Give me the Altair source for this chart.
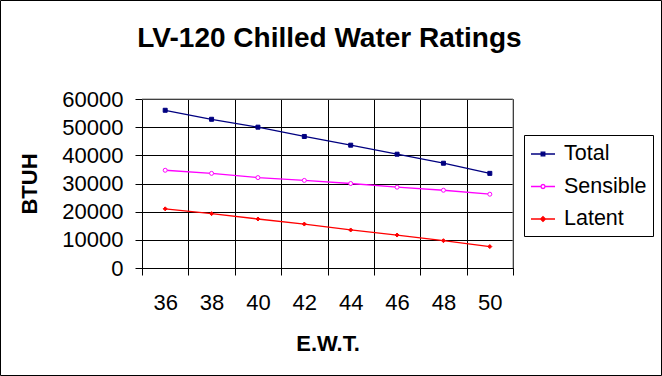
import altair as alt
import pandas as pd

# ---- data ----
ewt = [36, 38, 40, 42, 44, 46, 48, 50]
total = [56000, 52800, 50000, 46700, 43600, 40400, 37200, 33600]
sensible = [34700, 33600, 32100, 31100, 30000, 28700, 27600, 26200]
latent = [21000, 19300, 17400, 15600, 13500, 11700, 9700, 7600]
series = ["Total", "Sensible", "Latent"]
y_ticks = [0, 10000, 20000, 30000, 40000, 50000, 60000]

# ---- styles ----
colors = ["#000080", "#FF00FF", "#FF0000"]
point_shapes = ["square", "circle", "diamond"]
point_fills = ["#000080", "#FFFFFF", "#FF0000"]
legend_paths = [
    "M-1,0H1M-0.15,-0.15H0.15V0.15H-0.15Z",
    "M-1,0H-0.17M0.17,0H1M0.17,0L0.12,0.12L0,0.17L-0.12,0.12L-0.17,0L-0.12,-0.12L0,-0.17L0.12,-0.12Z",
    "M-1,0H1M0,-0.2L0.2,0L0,0.2L-0.2,0Z",
]

rows = []
for s, vals in zip(series, [total, sensible, latent]):
    for e, v in zip(ewt, vals):
        rows.append({"EWT": str(e), "Series": s, "BTUH": v})
df = pd.DataFrame(rows)
one = pd.DataFrame({"k": [0]})

FONT = "Liberation Sans"
W, H = 371, 169
PAD_L, PAD_T = 142, 99
TOTAL_W, TOTAL_H = 662, 376

x_enc = alt.X(
    "EWT:O",
    sort=[str(e) for e in ewt],
    scale=alt.Scale(type="band", paddingInner=0, paddingOuter=0),
    axis=alt.Axis(
        title="E.W.T.", tickBand="extent", grid=True, gridColor="black", gridWidth=1,
        gridOpacity=1, domainColor="black", domainWidth=1, tickColor="black", tickSize=7,
        labelAngle=0, labelFontSize=22, labelFont=FONT, labelColor="black", labelPadding=17,
        titleFont=FONT, titleFontSize=22, titleFontWeight="bold", titleColor="black",
        titlePadding=20,
    ),
)
y_enc = alt.Y(
    "BTUH:Q",
    scale=alt.Scale(domain=[0, 60000], nice=False),
    axis=alt.Axis(
        title="BTUH", values=y_ticks, format="d", grid=True, gridColor="black", gridWidth=1,
        gridOpacity=1, domainColor="black", domainWidth=1, tickColor="black", tickSize=7,
        labelFontSize=22, labelFont=FONT, labelColor="black", labelPadding=12,
        titleFont=FONT, titleFontSize=22, titleFontWeight="bold", titleColor="black",
        titlePadding=20,
    ),
)

legend = alt.Legend(
    orient="none", legendX=382, legendY=36, title=None, strokeColor="black",
    fillColor="white", padding=6, symbolSize=576, symbolStrokeWidth=1.3,
    labelFontSize=21.5, labelFont=FONT, labelColor="black",
    labelOffset=8, rowPadding=8.5, symbolOpacity=1,
)

color_enc = alt.Color("Series:N", scale=alt.Scale(domain=series, range=colors), legend=legend)
fill_enc = alt.Fill("Series:N", scale=alt.Scale(domain=series, range=point_fills), legend=legend)
shape_enc = alt.Shape("Series:N", scale=alt.Scale(domain=series, range=legend_paths), legend=legend)

lines = alt.Chart(df).mark_line(strokeWidth=1.3).encode(x=x_enc, y=y_enc, color=color_enc)

point_layers = []
for s, shp in zip(series, point_shapes):
    point_layers.append(
        alt.Chart(df).transform_filter(alt.datum.Series == s)
        .mark_point(shape=shp, size=16, strokeWidth=1, opacity=1, filled=False)
        .encode(x=x_enc, y=y_enc, color=color_enc, fill=fill_enc)
    )

# carrier layer with no rows: only gives the legend its line-plus-marker symbols
legend_carrier = (
    alt.Chart(df).transform_filter("false")
    .mark_point(size=576, strokeWidth=1.3, opacity=1, filled=False)
    .encode(x=x_enc, y=y_enc, color=color_enc, fill=fill_enc, shape=shape_enc)
)

top_rule = alt.Chart(one).mark_rule(color="#808080", strokeWidth=1).encode(
    x=alt.value(0), x2=alt.value(W), y=alt.value(0))
right_rule = alt.Chart(one).mark_rule(color="#808080", strokeWidth=1).encode(
    x=alt.value(W), y=alt.value(0), y2=alt.value(H))
frame = alt.Chart(one).mark_rect(fillOpacity=0, stroke="black", strokeWidth=1).encode(
    x=alt.value(-PAD_L + 0.5), x2=alt.value(TOTAL_W - PAD_L - 0.5),
    y=alt.value(-PAD_T + 0.5), y2=alt.value(TOTAL_H - PAD_T - 0.5))

chart = alt.layer(top_rule, right_rule, lines, *point_layers, legend_carrier, frame).properties(
    width=W, height=H,
    title=alt.Title("LV-120 Chilled Water Ratings", fontSize=28, font=FONT, fontWeight="bold",
                    color="black", anchor="middle", frame="group", offset=0,
                    baseline="alphabetic", dy=74.5, dx=2),
    autosize=alt.AutoSizeParams(type="none"),
    padding={"left": PAD_L, "top": PAD_T, "right": TOTAL_W - PAD_L - W, "bottom": TOTAL_H - PAD_T - H},
    background="white",
).configure_view(stroke=None)

chart.save("out.html", embed_options={"renderer": "svg", "actions": False})
